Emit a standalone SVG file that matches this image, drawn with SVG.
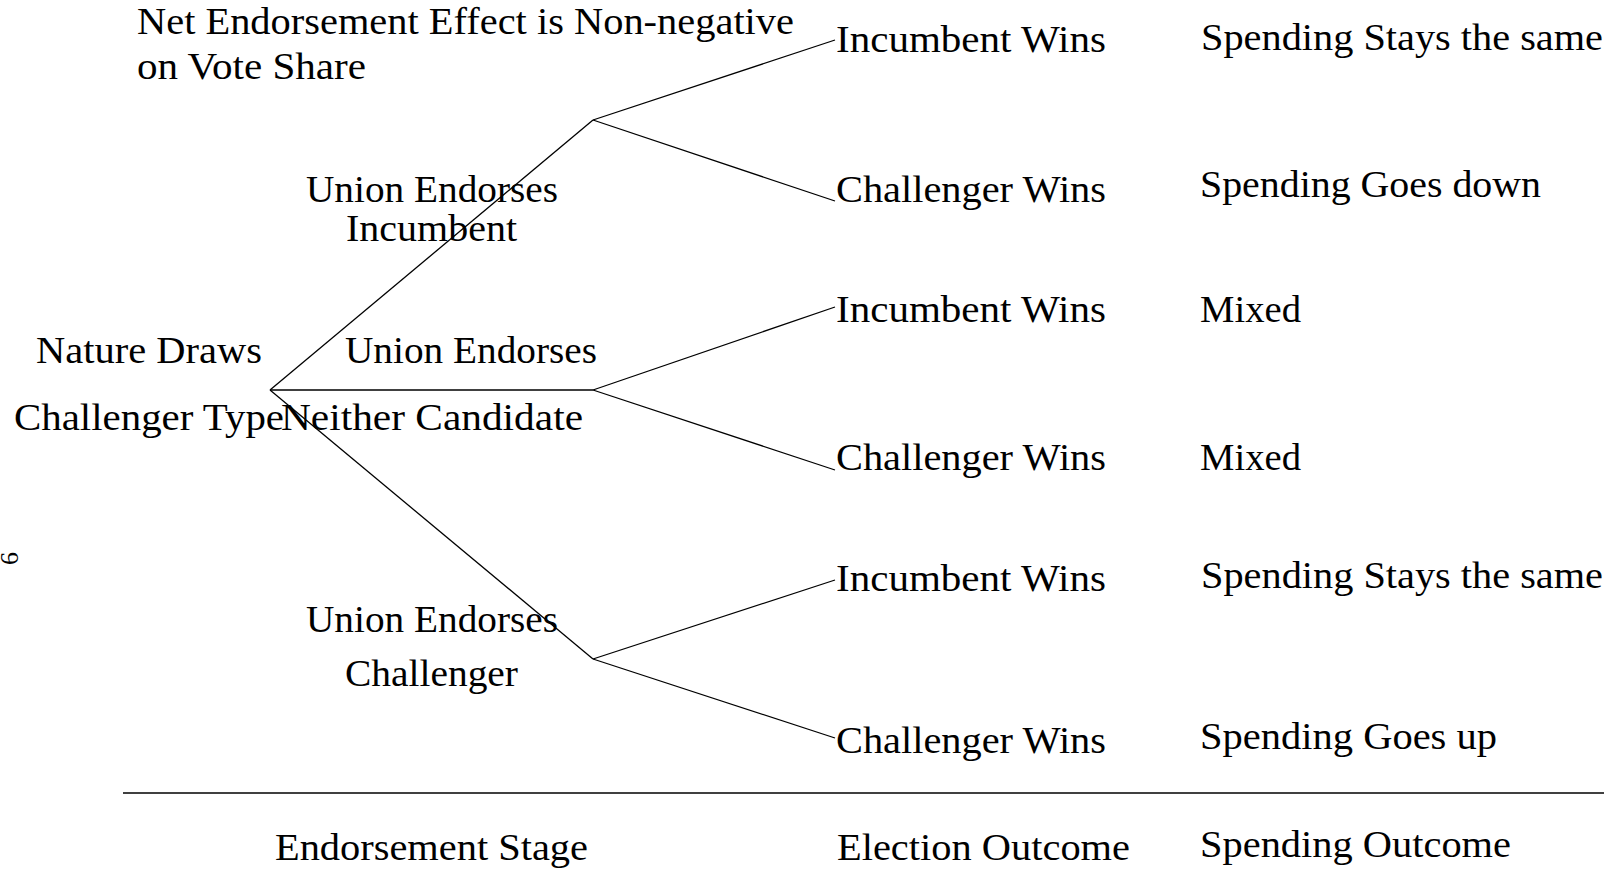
<svg xmlns="http://www.w3.org/2000/svg" width="1617" height="869" viewBox="0 0 1617 869">
<style>
text{font-family:"Liberation Serif","DejaVu Serif",serif;font-size:38px;fill:#000}
.e{stroke:#000;stroke-width:1.3;fill:none}
</style>
<rect width="1617" height="869" fill="#fff"/>
<g id="connectors">
<line class="e" x1="270" y1="390" x2="593" y2="120"/>
<line class="e" x1="270" y1="390" x2="593" y2="390"/>
<line class="e" x1="270" y1="390" x2="593" y2="659"/>
<line class="e" x1="593" y1="120" x2="835" y2="40"/>
<line class="e" x1="593" y1="120" x2="835" y2="201"/>
<line class="e" x1="593" y1="390" x2="835" y2="307"/>
<line class="e" x1="593" y1="390" x2="835" y2="470"/>
<line class="e" x1="593" y1="659" x2="835" y2="580"/>
<line class="e" x1="593" y1="659" x2="835" y2="738"/>
<line x1="123" y1="793" x2="1604" y2="793" stroke="#000" stroke-width="1.6"/>
</g>
<g id="title">
<text x="137" y="34" textLength="657" lengthAdjust="spacingAndGlyphs">Net Endorsement Effect is Non-negative</text>
<text x="137" y="79" textLength="229" lengthAdjust="spacingAndGlyphs">on Vote Share</text>
</g>
<g id="root">
<text x="36" y="363" textLength="226" lengthAdjust="spacingAndGlyphs">Nature Draws</text>
<text x="14" y="430" textLength="270" lengthAdjust="spacingAndGlyphs">Challenger Type</text>
</g>
<g id="endorse-incumbent">
<text x="306" y="202" textLength="252" lengthAdjust="spacingAndGlyphs">Union Endorses</text>
<text x="346" y="241" textLength="171" lengthAdjust="spacingAndGlyphs">Incumbent</text>
</g>
<g id="endorse-neither">
<text x="345" y="363" textLength="252" lengthAdjust="spacingAndGlyphs">Union Endorses</text>
<text x="281" y="430" textLength="302" lengthAdjust="spacingAndGlyphs">Neither Candidate</text>
</g>
<g id="endorse-challenger">
<text x="306" y="632" textLength="252" lengthAdjust="spacingAndGlyphs">Union Endorses</text>
<text x="345" y="686" textLength="173" lengthAdjust="spacingAndGlyphs">Challenger</text>
</g>
<g id="outcome-1"><text x="836" y="52" textLength="270" lengthAdjust="spacingAndGlyphs">Incumbent Wins</text></g>
<g id="outcome-2"><text x="836" y="202" textLength="270" lengthAdjust="spacingAndGlyphs">Challenger Wins</text></g>
<g id="outcome-3"><text x="836" y="322" textLength="270" lengthAdjust="spacingAndGlyphs">Incumbent Wins</text></g>
<g id="outcome-4"><text x="836" y="470" textLength="270" lengthAdjust="spacingAndGlyphs">Challenger Wins</text></g>
<g id="outcome-5"><text x="836" y="591" textLength="270" lengthAdjust="spacingAndGlyphs">Incumbent Wins</text></g>
<g id="outcome-6"><text x="836" y="753" textLength="270" lengthAdjust="spacingAndGlyphs">Challenger Wins</text></g>
<g id="spending-1"><text x="1201" y="50" textLength="402" lengthAdjust="spacingAndGlyphs">Spending Stays the same</text></g>
<g id="spending-2"><text x="1200" y="197" textLength="341" lengthAdjust="spacingAndGlyphs">Spending Goes down</text></g>
<g id="spending-3"><text x="1200" y="322" textLength="101" lengthAdjust="spacingAndGlyphs">Mixed</text></g>
<g id="spending-4"><text x="1200" y="470" textLength="101" lengthAdjust="spacingAndGlyphs">Mixed</text></g>
<g id="spending-5"><text x="1201" y="588" textLength="402" lengthAdjust="spacingAndGlyphs">Spending Stays the same</text></g>
<g id="spending-6"><text x="1200" y="749" textLength="297" lengthAdjust="spacingAndGlyphs">Spending Goes up</text></g>
<g id="stage-labels">
<text x="275" y="860" textLength="313" lengthAdjust="spacingAndGlyphs">Endorsement Stage</text>
<text x="837" y="860" textLength="293" lengthAdjust="spacingAndGlyphs">Election Outcome</text>
<text x="1200" y="857" textLength="311" lengthAdjust="spacingAndGlyphs">Spending Outcome</text>
</g>
<g id="page-mark">
<text transform="translate(18,558.5) rotate(-90)" text-anchor="middle" style="font-size:26px">6</text>
</g>
</svg>
